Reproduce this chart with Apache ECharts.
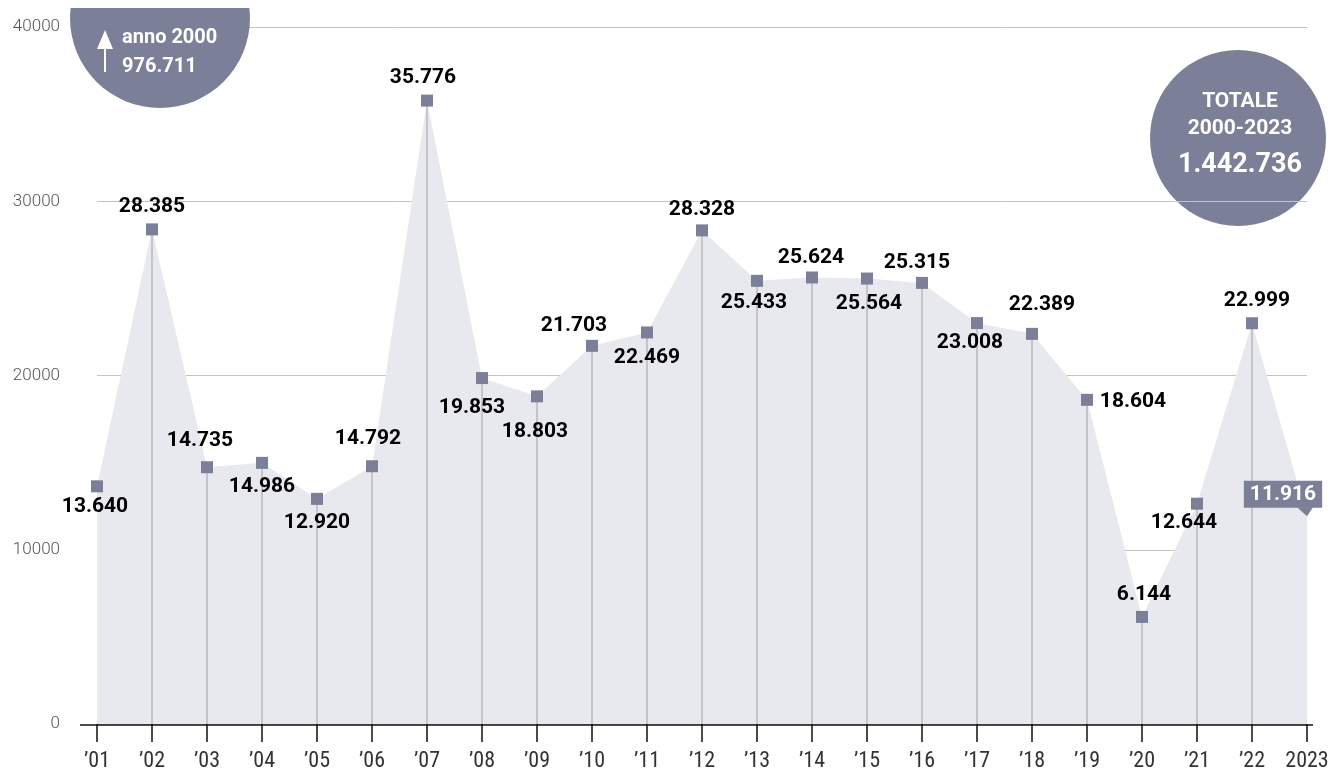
<!DOCTYPE html>
<html>
<head>
<meta charset="utf-8">
<script src="https://cdn.jsdelivr.net/npm/echarts@6/dist/echarts.min.js"></script>
<style>
  html, body { margin: 0; padding: 0; background: #fff; }
  #chart { width: 1333px; height: 772px; }
</style>
</head>
<body>
<div id="chart"></div>
<script>
// anni (asse x)
const years = ['’01', '’02', '’03', '’04', '’05', '’06', '’07', '’08', '’09', '’10', '’11', '’12',
  '’13', '’14', '’15', '’16', '’17', '’18', '’19', '’20', '’21', '’22', '2023'];
// valori annuali
const values = [13640, 28385, 14735, 14986, 12920, 14792, 35776, 19853, 18803, 21703, 22469, 28328,
  25433, 25624, 25564, 25315, 23008, 22389, 18604, 6144, 12644, 22999, 11916];
// spostamento delle etichette rispetto al punto
const labelOffsets = [[-2, 20], [0, -23], [-7, -26], [0, 24], [0, 24], [-4, -27], [-4, -23], [-10, 30],
  [-2, 35], [-18, -20], [0, 25], [0, -21], [-3, 22], [-1, -20], [2, 25], [-5, -20], [-7, 20], [10, -29],
  [46, 2], [2, -22], [-13, 19], [5, -22], [-24, -22]];
const yTicks = { min: 0, max: 40000, interval: 10000 };

const last = values.length - 1;
const blue = '#7b7f97';
const fmt = v => String(v).replace(/\B(?=(\d{3})+(?!\d))/g, '.');

let option = {
  animation: false,
  grid: { left: 97, right: 26, top: 27, bottom: 47 },
  xAxis: {
    type: 'category',
    data: years,
    boundaryGap: false,
    axisLine: { show: false },
    axisTick: { show: true, length: 18, lineStyle: { color: '#111', width: 1.5 } },
    axisLabel: {
      interval: 0,
      margin: 26,
      fontSize: 22,
      color: '#333',
      fontFamily: "'Roboto Condensed','Liberation Sans Narrow','DejaVu Sans Condensed',sans-serif"
    },
    splitLine: { show: false }
  },
  yAxis: {
    type: 'value',
    min: yTicks.min,
    max: yTicks.max,
    interval: yTicks.interval,
    axisLine: { show: false },
    axisTick: { show: false },
    axisLabel: { margin: 37, fontSize: 17, color: '#555', fontWeight: 300, fontFamily: 'Roboto',
      formatter: v => String(v) },
    splitLine: { lineStyle: { color: '#c4c4c4', width: 1 } }
  },
  graphic: [
    { id: 'axis', type: 'line', shape: { x1: 80, y1: 725, x2: 1313, y2: 725 },
      style: { stroke: '#111', lineWidth: 1.5 }, z: 50 },
    // cerchio in alto a sinistra
    { id: 'c1', type: 'circle', shape: { cx: 160, cy: 18, r: 90 }, style: { fill: blue }, z: 100 },
    { id: 'c1mask', type: 'rect', shape: { x: 60, y: 0, width: 210, height: 8 }, style: { fill: '#fff' }, z: 101 },
    { id: 'arr', type: 'line', shape: { x1: 105, y1: 72, x2: 105, y2: 44 },
      style: { stroke: '#fff', lineWidth: 2 }, z: 102 },
    { id: 'arrh', type: 'polygon', shape: { points: [[97, 49], [105, 30], [113, 49]] },
      style: { fill: '#fff' }, z: 102 },
    { id: 't1', type: 'text', left: 122, top: 28, z: 102,
      style: { text: 'anno 2000', fill: '#fff', font: 'bold 20px Roboto' } },
    { id: 't2', type: 'text', left: 122, top: 57, z: 102,
      style: { text: '976.711', fill: '#fff', font: 'bold 20px Roboto' } },
    // cerchio in alto a destra
    { id: 'c2', type: 'circle', shape: { cx: 1238, cy: 138, r: 88 }, style: { fill: blue }, z: -10 },
    { id: 't3', type: 'text', x: 1240, y: 102, z: 5,
      style: { text: 'TOTALE', fill: '#fff', font: 'bold 21px Roboto', align: 'center', verticalAlign: 'middle' } },
    { id: 't4', type: 'text', x: 1240, y: 129, z: 5,
      style: { text: '2000-2023', fill: '#fff', font: 'bold 21px Roboto', align: 'center', verticalAlign: 'middle' } },
    { id: 't5', type: 'text', x: 1240, y: 165, z: 5,
      style: { text: '1.442.736', fill: '#fff', font: 'bold 27px Roboto', align: 'center', verticalAlign: 'middle' } }
  ],
  series: [
    {
      type: 'line',
      data: values,
      symbol: 'none',
      lineStyle: { width: 0 },
      areaStyle: { color: '#e8e9ef', opacity: 1 },
      silent: true,
      z: 1
    },
    {
      type: 'bar',
      data: values.map((v, i) => (i === 0 || i === last) ? '-' : v),
      barWidth: 1,
      itemStyle: { color: '#a2a2a2' },
      silent: true,
      z: 2
    },
    {
      type: 'scatter',
      symbol: 'rect',
      symbolSize: 12,
      itemStyle: { color: blue, opacity: 1 },
      z: 3,
      label: {
        show: true,
        position: 'inside',
        formatter: p => fmt(p.value),
        fontFamily: 'Roboto',
        fontWeight: 'bold',
        fontSize: 21,
        color: '#000'
      },
      data: values.map((v, i) => {
        const item = { value: v, label: { offset: labelOffsets[i] } };
        if (i === last) {
          item.symbolSize = 0.1;
          item.label = {
            offset: labelOffsets[i],
            color: '#fff',
            backgroundColor: blue,
            padding: [4, 6, 2, 6]
          };
        }
        return item;
      })
    }
  ]
};

let chart = echarts.init(document.getElementById('chart'));
chart.setOption(option);

// punta del riquadro dell'ultimo valore
const p = chart.convertToPixel({ seriesIndex: 2 }, [last, values[last]]);
const boxBottom = p[1] + labelOffsets[last][1] + 13;
chart.setOption({
  graphic: [{ id: 'tip', type: 'polygon', z: 60,
    shape: { points: [[p[0] - 10, boxBottom], [p[0] + 6, boxBottom], [p[0], p[1]]] },
    style: { fill: blue } }]
});
</script>
</body>
</html>
